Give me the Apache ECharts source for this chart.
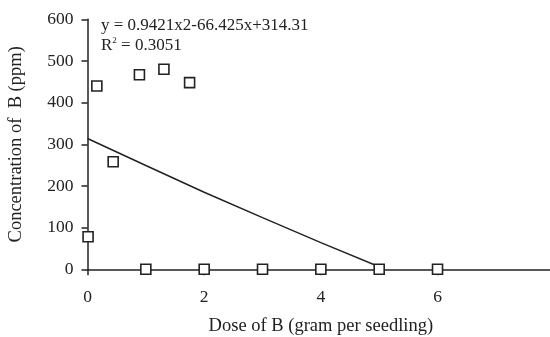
<!DOCTYPE html>
<html><head><meta charset="utf-8">
<script src="https://cdn.jsdelivr.net/npm/echarts@6/dist/echarts.min.js"></script>
<style>html,body{margin:0;padding:0;background:#fff}#c{width:550px;height:337px}</style>
</head><body><div id="c"></div>
<script>
const doseValues = [0.01, 0.16, 0.44, 0.89, 1.31, 1.75, 1, 2, 3, 4, 5, 6];
const concValues = [78, 440, 258, 467, 480, 448, 0, 0, 0, 0, 0, 0];
const trendDose = [0, 1, 2, 3, 4, 5];
const trendConc = [314, 249, 185, 124, 64, 6];
const xTicks = [0, 2, 4, 6, 8];
const yTicks = [0, 100, 200, 300, 400, 500, 600];
const equationText = 'y = 0.9421x2-66.425x+314.31';
const r2Text = '0.3051';

const font = 'Liberation Serif';
const chart = echarts.init(document.getElementById('c'), null, {renderer: 'canvas'});
chart.setOption({
  animation: false,
  grid: {left: 87.5, top: 19.3, width: 466.7, height: 250, outerBoundsMode: 'none', containLabel: false},
  xAxis: {
    type: 'value', min: xTicks[0], max: xTicks[xTicks.length-1], interval: 2,
    name: 'Dose of B (gram per seedling)', nameLocation: 'middle', nameGap: 47,
    nameTextStyle: {fontFamily: font, fontSize: 18.5, color: '#222'},
    axisLine: {show: true, onZero: false, lineStyle: {color: '#222', width: 1.5}},
    axisTick: {show: true, inside: false, length: 6, lineStyle: {color: '#222', width: 1.5}},
    axisLabel: {fontFamily: font, fontSize: 17.5, color: '#222', margin: 19, showMaxLabel: true, hideOverlap: false},
    splitLine: {show: false}
  },
  yAxis: {
    type: 'value', min: yTicks[0], max: yTicks[yTicks.length-1], interval: 100,
    name: 'Concentration of  B (ppm)', nameLocation: 'middle', nameGap: 62,
    nameTextStyle: {fontFamily: font, fontSize: 18.5, color: '#222'},
    axisLine: {show: true, lineStyle: {color: '#222', width: 1.5}},
    axisTick: {show: true, length: 6, lineStyle: {color: '#222', width: 1.5}},
    axisLabel: {fontFamily: font, fontSize: 17.5, color: '#222', margin: 14},
    splitLine: {show: false}
  },
  graphic: [{
    type: 'text', left: 101, top: 16,
    style: {
      text: equationText + '\n{r|R}{s|2}{r| = ' + r2Text + '}',
      fontFamily: font, fontSize: 17, fill: '#222', lineHeight: 20,
      rich: {
        r: {fontFamily: font, fontSize: 17, fill: '#222', lineHeight: 20},
        s: {fontFamily: font, fontSize: 9, fill: '#222', verticalAlign: 'top', lineHeight: 20, padding: [0,0,8,0]}
      }
    }
  }],
  series: [{
    type: 'line', data: trendDose.map((d, i) => [d, trendConc[i]]),
    showSymbol: false, smooth: false, lineStyle: {color: '#222', width: 1.5}, z: 2
  }, {
    type: 'scatter', data: doseValues.map((d, i) => [d, concValues[i]]),
    symbol: 'rect', symbolSize: 10,
    itemStyle: {color: '#fff', borderColor: '#222', borderWidth: 1.6, opacity: 1}, z: 3
  }]
});
</script></body></html>
